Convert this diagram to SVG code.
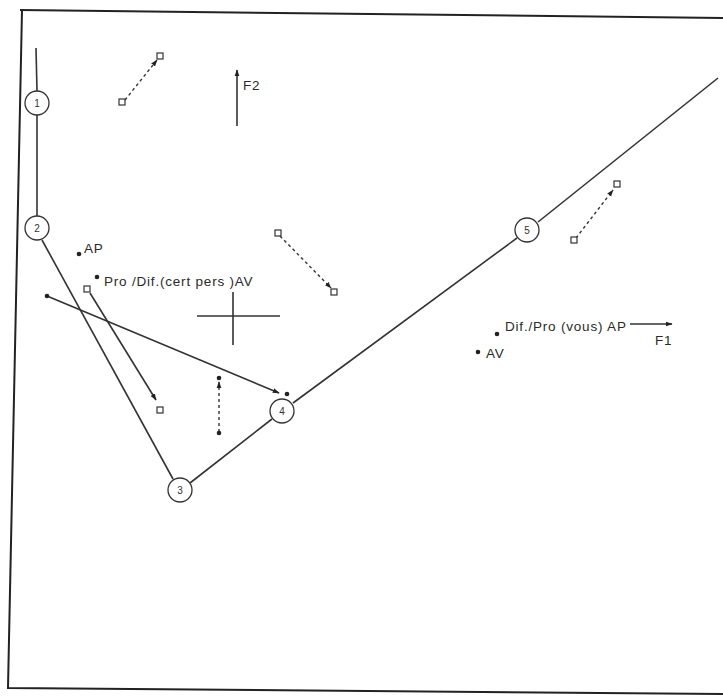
<svg xmlns="http://www.w3.org/2000/svg" width="723" height="700" viewBox="0 0 723 700">
<defs>
<style>
.frame{fill:none;stroke:#222;stroke-width:2}
.ln{fill:none;stroke:#333;stroke-width:1.6}
.dash{fill:none;stroke:#333;stroke-width:1.4;stroke-dasharray:3,3}
.node circle{fill:#fff;stroke:#333;stroke-width:1.3}
.node text{font-family:"Liberation Sans",Arial,sans-serif;font-size:10px;fill:#333;text-anchor:middle}
.lbl{font-family:"Liberation Sans",Arial,sans-serif;font-size:13.5px;letter-spacing:0.8px;fill:#2a2a2a}
.sq{fill:#fff;stroke:#333;stroke-width:1.2}
.dot{fill:#222}
</style>
<marker id="ah" viewBox="0 0 10 10" refX="9" refY="5" markerWidth="7" markerHeight="7" orient="auto" markerUnits="userSpaceOnUse">
<path d="M0,1.5 L10,5 L0,8.5 z" fill="#222"/>
</marker>
</defs>
<rect width="723" height="700" fill="#fff"/>
<g id="frame">
<path class="frame" d="M20,10 L723,18"/>
<path class="frame" d="M22,10 L8,688 L723,694"/>
</g>
<g id="connectors">
<path class="ln" d="M36,48 L37,91"/>
<path class="ln" d="M37,115 L37,216"/>
<path class="ln" d="M42,240 L173,479"/>
<path class="ln" d="M190,483 L272,419"/>
<path class="ln" d="M293,403 L517,238"/>
<path class="ln" d="M538,222 L718,78"/>
<path class="ln" d="M237,126 L237,70" marker-end="url(#ah)"/>
<path class="ln" d="M197,316 L280,316"/>
<path class="ln" d="M233,292 L233,345"/>
<path class="ln" d="M47,296 L279,393" marker-end="url(#ah)"/>
<path class="ln" d="M90,293 L156,400" marker-end="url(#ah)"/>
<path class="dash" d="M125,100 L157,60" marker-end="url(#ah)"/>
<path class="dash" d="M280,236 L331,288" marker-end="url(#ah)"/>
<path class="dash" d="M219,432 L219,382" marker-end="url(#ah)"/>
<path class="dash" d="M576,238 L613,190" marker-end="url(#ah)"/>
<path class="ln" d="M630,324 L672,324" marker-end="url(#ah)"/>
</g>
<g id="node1" class="node"><circle cx="37" cy="103" r="12"/><text x="37" y="107">1</text></g>
<g id="node2" class="node"><circle cx="37" cy="228" r="12"/><text x="37" y="232">2</text></g>
<g id="node3" class="node"><circle cx="180" cy="490" r="12"/><text x="180" y="494">3</text></g>
<g id="node4" class="node"><circle cx="282" cy="411" r="12"/><text x="282" y="415">4</text></g>
<g id="node5" class="node"><circle cx="527" cy="230" r="12"/><text x="527" y="234">5</text></g>
<g id="markers">
<rect class="sq" x="119" y="99" width="6" height="6"/>
<rect class="sq" x="157" y="53" width="6" height="6"/>
<rect class="sq" x="275" y="230" width="6" height="6"/>
<rect class="sq" x="331" y="289" width="6" height="6"/>
<rect class="sq" x="84" y="286" width="6" height="6"/>
<rect class="sq" x="157" y="407" width="6" height="6"/>
<rect class="sq" x="571" y="237" width="6" height="6"/>
<rect class="sq" x="614" y="181" width="6" height="6"/>
<circle class="dot" cx="79" cy="254" r="2.3"/>
<circle class="dot" cx="97" cy="277" r="2.3"/>
<circle class="dot" cx="47" cy="296" r="2.3"/>
<circle class="dot" cx="287" cy="394" r="2.3"/>
<circle class="dot" cx="219" cy="378" r="2.3"/>
<circle class="dot" cx="219" cy="433" r="2.3"/>
<circle class="dot" cx="497" cy="334" r="2.3"/>
<circle class="dot" cx="478" cy="352" r="2.3"/>
</g>
<g id="labels">
<text class="lbl" x="243" y="90">F2</text>
<text class="lbl" x="84" y="253">AP</text>
<text class="lbl" x="104" y="286">Pro /Dif.(cert pers )AV</text>
<text class="lbl" x="505" y="331">Dif./Pro (vous) AP</text>
<text class="lbl" x="655" y="345">F1</text>
<text class="lbl" x="486" y="358">AV</text>
</g>
</svg>
